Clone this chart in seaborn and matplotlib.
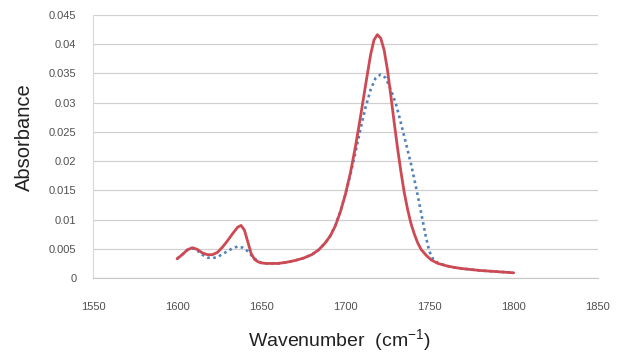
import numpy as np
import pandas as pd
import matplotlib
matplotlib.use("Agg")
import matplotlib.pyplot as plt
import seaborn as sns

# wavenumber grid (cm-1) and absorbance
wn_red = [1600, 1603, 1606, 1609, 1612, 1615, 1618, 1621, 1624, 1627, 1630, 1633,
          1636, 1638, 1640, 1642, 1644, 1646, 1648, 1650, 1653, 1656, 1660, 1665,
          1670, 1675, 1680, 1684, 1688, 1691, 1694, 1697, 1700, 1703, 1706, 1709,
          1712, 1715, 1717, 1719, 1721, 1723, 1725, 1727, 1729, 1731, 1733, 1735,
          1737, 1739, 1741, 1743, 1745, 1748, 1751, 1755, 1760, 1765, 1770, 1780,
          1790, 1800]
abs_red = [0.0033, 0.0040, 0.0048, 0.0052, 0.0049, 0.0043, 0.0040, 0.0040, 0.0044,
           0.0053, 0.0064, 0.0076, 0.0087, 0.0090, 0.0082, 0.0062, 0.0042, 0.0032,
           0.0028, 0.0026, 0.0025, 0.0025, 0.0025, 0.0027, 0.0030, 0.0034, 0.0040,
           0.0048, 0.0060, 0.0072, 0.0089, 0.0113, 0.0143, 0.0180, 0.0225, 0.0276,
           0.0330, 0.0382, 0.0407, 0.0416, 0.0410, 0.0390, 0.0356, 0.0312, 0.0266,
           0.0222, 0.0182, 0.0146, 0.0117, 0.0093, 0.0075, 0.0060, 0.0049, 0.0039,
           0.0031, 0.0025, 0.0021, 0.0018, 0.0016, 0.0013, 0.0011, 0.0009]

wn_blue = [1600, 1603, 1606, 1609, 1612, 1615, 1618, 1621, 1624, 1627, 1630, 1633,
           1636, 1639, 1642, 1645, 1648, 1650, 1653, 1656, 1660, 1665, 1670, 1675,
           1680, 1684, 1688, 1691, 1694, 1697, 1700, 1703, 1706, 1709, 1712, 1715,
           1718, 1721, 1724, 1727, 1730, 1733, 1736, 1739, 1742, 1745, 1748, 1750,
           1752, 1755, 1760, 1765, 1770, 1780, 1790, 1800]
abs_blue = [0.0033, 0.0040, 0.0048, 0.0051, 0.0047, 0.0040, 0.0035, 0.0034, 0.0036,
            0.0041, 0.0046, 0.0051, 0.0054, 0.0052, 0.0046, 0.0036, 0.0029, 0.0026,
            0.0025, 0.0025, 0.0025, 0.0027, 0.0030, 0.0034, 0.0040, 0.0048, 0.0060,
            0.0072, 0.0090, 0.0114, 0.0143, 0.0177, 0.0215, 0.0255, 0.0292, 0.0322,
            0.0342, 0.0348, 0.0342, 0.0322, 0.0298, 0.0265, 0.0230, 0.0195, 0.0155,
            0.0112, 0.0068, 0.0045, 0.0033, 0.0026, 0.0021, 0.0018, 0.0016, 0.0013,
            0.0011, 0.0009]

x_ticks = [1550, 1600, 1650, 1700, 1750, 1800, 1850]
y_ticks = [0, 0.005, 0.01, 0.015, 0.02, 0.025, 0.03, 0.035, 0.04, 0.045]
y_tick_labels = ["0", "0.005", "0.01", "0.015", "0.02", "0.025", "0.03", "0.035", "0.04", "0.045"]

sns.set_style("white")
plt.rcParams["font.family"] = ["Liberation Sans", "DejaVu Sans"]
plt.rcParams["mathtext.default"] = "regular"

red = pd.DataFrame({"wn": wn_red, "A": abs_red})
blue = pd.DataFrame({"wn": wn_blue, "A": abs_blue})

fig = plt.figure(figsize=(6.24, 3.52), dpi=100)
ax = fig.add_axes([0.149, 0.21, 0.809, 0.748])

sns.lineplot(data=blue, x="wn", y="A", ax=ax, color="#4f81bd", linewidth=1.9,
             linestyle=(0, (1, 1.3)), estimator=None, sort=False)
sns.lineplot(data=red, x="wn", y="A", ax=ax, color="#cd4a54", linewidth=2.0,
             estimator=None, sort=False)

ax.set_xlim(1550, 1850)
ax.set_ylim(0, 0.045)
ax.set_xticks(x_ticks)
ax.set_xticklabels([str(v) for v in x_ticks])
ax.set_yticks(y_ticks)
ax.set_yticklabels(y_tick_labels)
ax.yaxis.grid(True, color="#d0d0d0", linewidth=0.9)
ax.xaxis.grid(False)

for s in ["top", "right"]:
    ax.spines[s].set_visible(False)
ax.spines["left"].set_color("#d8d8d8")
ax.spines["bottom"].set_color("#c8c8c8")
ax.tick_params(axis="x", length=3, color="#c8c8c8", pad=14, labelsize=8, labelcolor="#505050")
ax.tick_params(axis="y", length=4, color="#d0d0d0", pad=8, labelsize=8, labelcolor="#505050")

ax.set_xlabel("Wavenumber  (cm$^{-1}$)", fontsize=14, color="#222222")
ax.xaxis.set_label_coords(0.489, -0.236)
ax.xaxis.label.set_va("center")
ax.set_ylabel("Absorbance", fontsize=14.5, color="#222222")
ax.yaxis.set_label_coords(-0.135, 0.536)
ax.yaxis.label.set_va("center")

fig.savefig("out.png", dpi=100)
